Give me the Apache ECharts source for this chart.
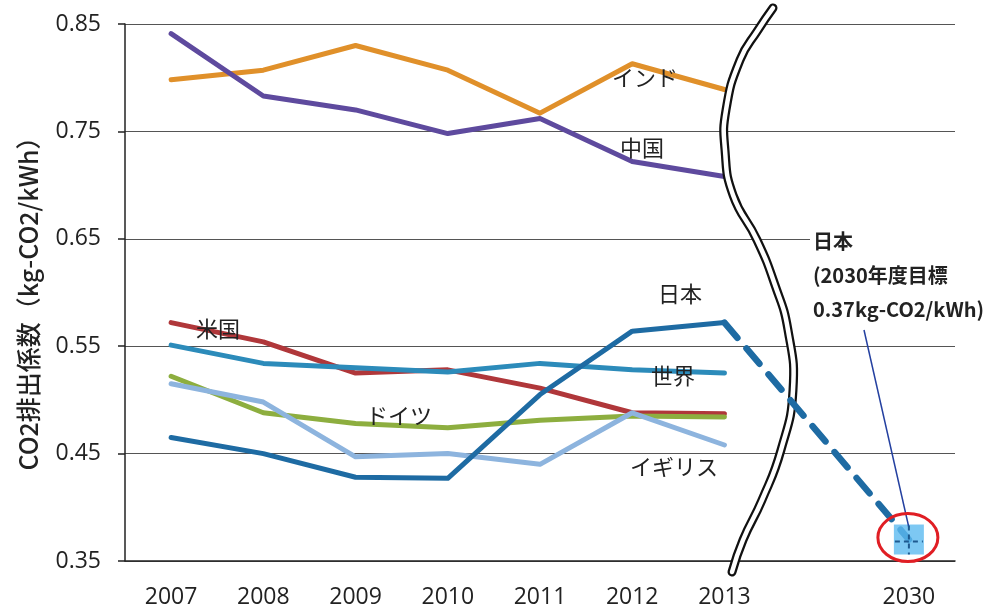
<!DOCTYPE html>
<html><head><meta charset="utf-8">
<script src="https://cdn.jsdelivr.net/npm/echarts@6/dist/echarts.min.js"></script>
<style>html,body{margin:0;padding:0;background:#fff}#c{width:997px;height:613px}</style>
</head><body><div id="c"></div>
<script>
const categories = ['2007','2008','2009','2010','2011','2012','2013','','2030'];
const india   = [0.798,0.807,0.830,0.807,0.767,0.813,0.789,null,null];
const china   = [0.841,0.783,0.770,0.748,0.762,0.722,0.708,null,null];
const usa     = [0.572,0.554,0.525,0.528,0.511,0.488,0.487,null,null];
const world   = [0.551,0.534,0.530,0.526,0.534,0.528,0.525,null,null];
const germany = [0.522,0.488,0.478,0.474,0.481,0.485,0.484,null,null];
const uk      = [0.515,0.498,0.447,0.450,0.440,0.488,0.458,null,null];
const japan   = [0.465,0.450,0.428,0.427,0.505,0.564,0.572,null,null];
const japanTarget = [null,null,null,null,null,null,0.572,null,0.37];
const target2030 = [[8,0.37]];
const yTicks = [0.35,0.45,0.55,0.65,0.75,0.85];

const JP = '"Noto Sans CJK JP","Noto Sans",sans-serif';
const NUM = '"Open Sans","Noto Sans",sans-serif';
const chart = echarts.init(document.getElementById('c'));
function line(name, data, color, z){
  return {name, type:'line', data, symbol:'none', z: z||2,
    lineStyle:{color, width:5, cap:'round', join:'round'}, animation:false};
}
chart.setOption({
  animation:false,
  grid:{left:125, right:42, top:24, bottom:52, containLabel:false},
  xAxis:{type:'category', data:categories, boundaryGap:true,
    axisLine:{lineStyle:{color:'#222', width:1.5}},
    axisTick:{length:8, lineStyle:{color:'#222', width:1.5}},
    axisLabel:{color:'#222', fontSize:23, fontFamily:NUM, margin:25},
    splitLine:{show:false}},
  yAxis:{type:'value', min:yTicks[0], max:yTicks[yTicks.length-1], interval:0.1,
    name:'CO2排出係数（kg-CO2/kWh）', nameLocation:'middle', nameGap:84,
    nameTextStyle:{fontSize:25, fontWeight:500, color:'#222', fontFamily:JP, padding:[0,10,0,0]},
    axisLine:{show:true, lineStyle:{color:'#222', width:1.5}},
    axisTick:{show:true, length:7, lineStyle:{color:'#222', width:1.5}},
    axisLabel:{color:'#222', fontSize:23, margin:24, fontFamily:NUM,
      formatter:v=>v.toFixed(2)},
    splitLine:{lineStyle:{color:'#555', width:1.2}}},
  series:[
    line('インド', india, '#E0902A'),
    line('中国', china, '#5E4A9E'),
    line('米国', usa, '#B0373A'),
    line('世界', world, '#2C8BBA'),
    line('ドイツ', germany, '#8DAE3F'),
    line('イギリス', uk, '#8DB4DE'),
    line('日本', japan, '#1E6BA3', 3),
    {name:'日本目標', type:'line', data:japanTarget, connectNulls:true, symbol:'none', z:20,
      lineStyle:{color:'#1E6BA3', width:6.5, type:[20,14], cap:'round'}},
    {name:'2030', type:'scatter', data:target2030, symbol:'rect', symbolSize:30, z:21,
      itemStyle:{color:'#5DBAF0'}}
  ]
});

const p = chart.convertToPixel({gridIndex:0}, [8, 0.37]);
const lbl = (text, x, y) => ({type:'text', x, y, z:30,
  style:{text, fill:'#222', font:'22px ' + JP, align:'center', verticalAlign:'middle'}});
const wavePts = [[773,8],[758,30],[740,60],[726,110],[725,150],[733,195],[757,240],[775,285],[788,330],[793,390],[781,450],[762,500],[743,540],[732,572]];
chart.setOption({graphic:[
  {type:'polyline', z:10, shape:{points:wavePts, smooth:0.5}, style:{stroke:'#111', lineWidth:9, fill:null, lineCap:'round'}},
  {type:'polyline', z:11, shape:{points:wavePts, smooth:0.5}, style:{stroke:'#fff', lineWidth:4.5, fill:null, lineCap:'round'}},
  lbl('インド', 645, 78), lbl('中国', 642, 148), lbl('米国', 218, 329), lbl('ドイツ', 399, 416),
  lbl('日本', 680, 294), lbl('世界', 673, 376), lbl('イギリス', 674, 467),
  {type:'rect', z:25, shape:{x:810, y:224, width:184, height:100}, style:{fill:'#fff'}},
  {type:'text', x:813, y:224, z:30, style:{text:'日本\n(2030年度目標\n0.37kg-CO2/kWh)',
    font:'bold 20px ' + JP, fill:'#222', lineHeight:34}},
  {type:'line', z:30, shape:{x1:864, y1:330, x2:p[0], y2:p[1]-12}, style:{stroke:'#2440A0', lineWidth:1.5}},
  {type:'line', z:30, shape:{x1:p[0], y1:p[1]-14, x2:p[0], y2:p[1]+15}, style:{stroke:'#1E5A90', lineWidth:2, lineDash:[5,4]}},
  {type:'line', z:30, shape:{x1:p[0]-14, y1:p[1]+2, x2:p[0]+14, y2:p[1]+2}, style:{stroke:'#1E5A90', lineWidth:2, lineDash:[5,4]}},
  {type:'ellipse', z:31, shape:{cx:p[0]-1, cy:p[1]-2, rx:30, ry:24}, style:{stroke:'#E01E24', lineWidth:3, fill:null}}
]});
</script></body></html>
